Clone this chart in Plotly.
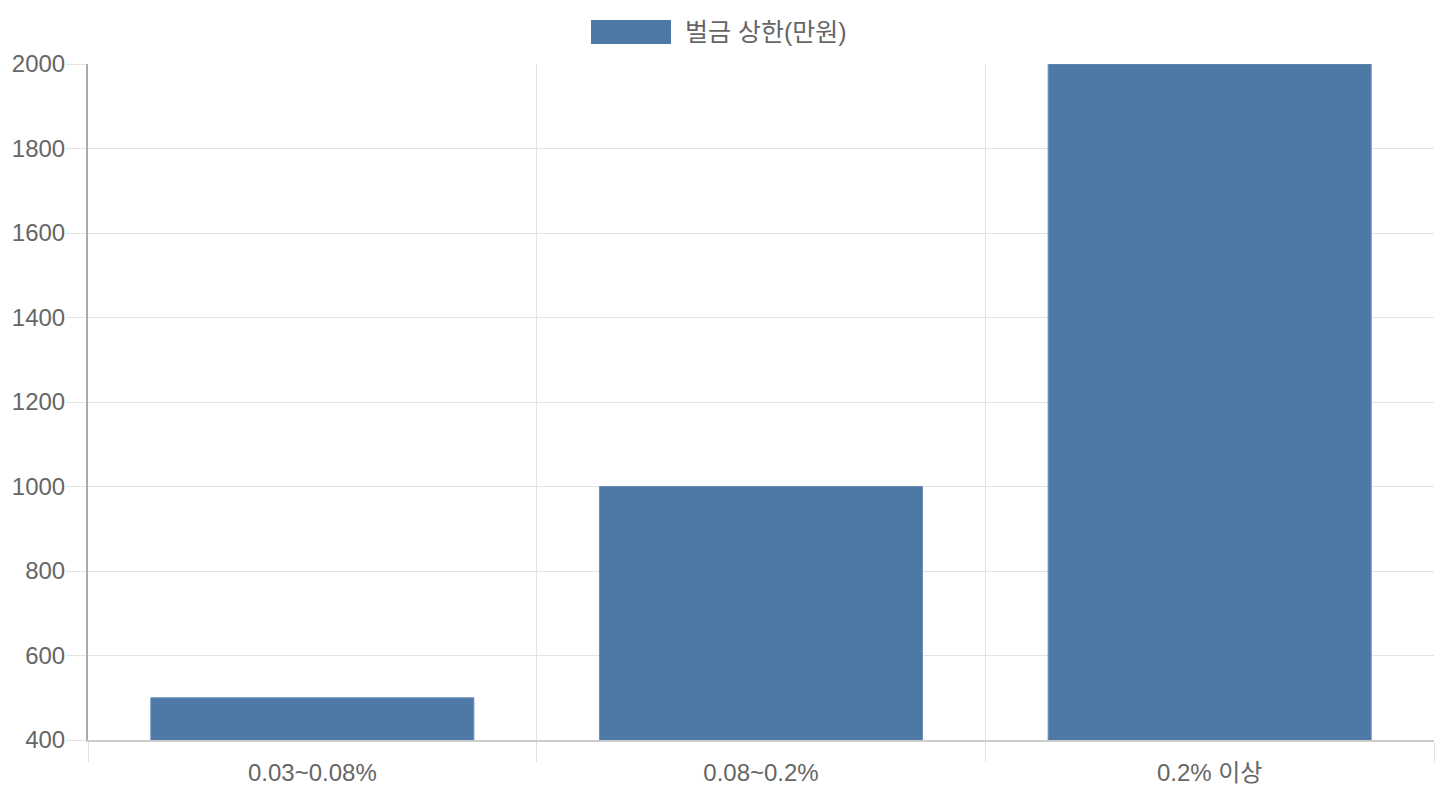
import plotly.graph_objects as go

categories = ["0.03~0.08%", "0.08~0.2%", "0.2% 이상"]
fine_cap = [500, 1000, 2000]
series_name = "벌금 상한(만원)"
y_ticks = [400, 600, 800, 1000, 1200, 1400, 1600, 1800, 2000]

BAR = "#4e79a7"
TXT = "#666666"
GRID = "#e3e3e3"
FONT = "Liberation Sans, Arial, Noto Sans CJK KR, sans-serif"

fig = go.Figure()
fig.add_trace(go.Bar(
    x=categories, y=fine_cap, name=series_name,
    marker=dict(color=BAR, line=dict(color="#6b8fb8", width=1)),
    width=0.72, showlegend=False,
))

fig.update_layout(
    width=1440, height=800,
    margin=dict(l=88, r=6, t=64, b=60),
    paper_bgcolor="white", plot_bgcolor="white",
    font=dict(family=FONT, size=24, color=TXT),
    bargap=0.28,
    xaxis=dict(
        type="category", tickson="boundaries",
        showgrid=True, gridcolor=GRID, gridwidth=1,
        ticks="outside", ticklen=20, tickcolor=GRID, tickwidth=1,
        showline=True, linecolor="#cccccc", linewidth=2,
        tickfont=dict(size=24, color=TXT),
        ticklabelstandoff=10,
        range=[-0.5, 2.5],
    ),
    yaxis=dict(
        range=[400, 2000], tickvals=y_ticks,
        showgrid=True, gridcolor=GRID, gridwidth=1,
        ticks="outside", ticklen=20, tickcolor=GRID,
        showline=True, linecolor="#aaaaaa", linewidth=2,
        zeroline=False, tickfont=dict(size=24, color=TXT),
        ticklabelstandoff=-4,
    ),
    shapes=[dict(type="rect", xref="paper", yref="paper",
                 x0=(591 - 88) / 1346, x1=(671 - 88) / 1346,
                 y0=1 + (64 - 44) / 676, y1=1 + (64 - 20) / 676,
                 fillcolor=BAR, line=dict(width=0))],
    annotations=[dict(text=series_name, xref="paper", yref="paper",
                      x=(683 - 88) / 1346, y=1 + (64 - 32) / 676,
                      xanchor="left", yanchor="middle", showarrow=False,
                      font=dict(family=FONT, size=25, color=TXT))],
)

fig.write_html("out.html", config={"displayModeBar": False},
               post_script="document.body.style.margin='0';document.body.style.overflow='hidden';")
